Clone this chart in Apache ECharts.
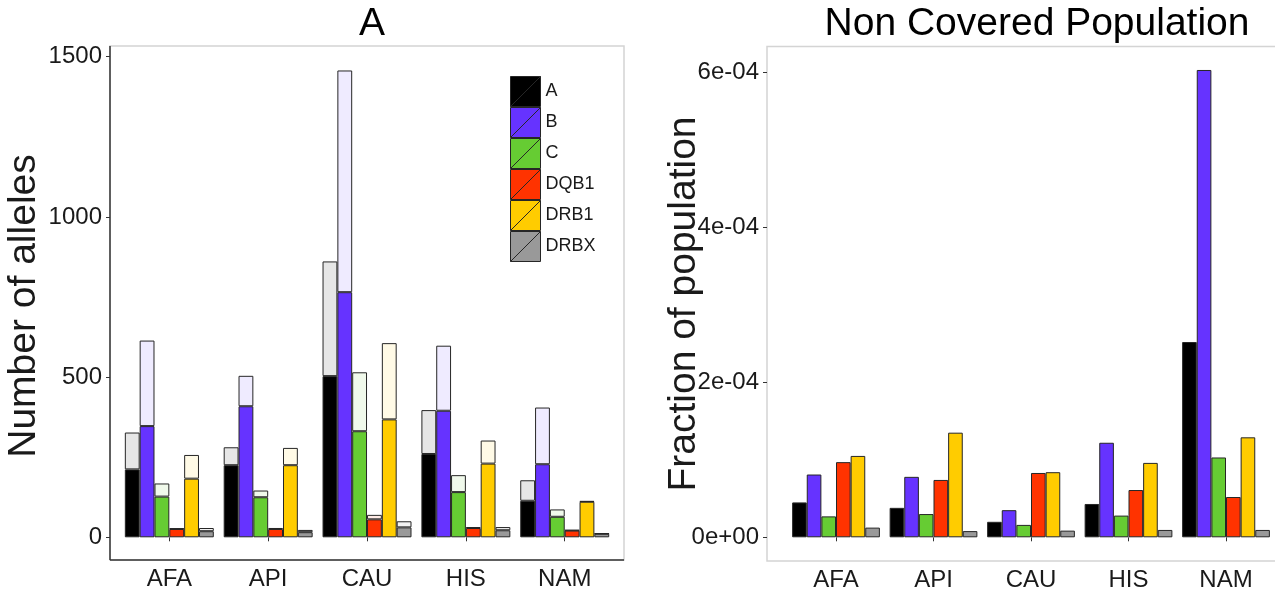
<!DOCTYPE html>
<html>
<head>
<meta charset="utf-8">
<script src="https://cdn.jsdelivr.net/npm/echarts@6/dist/echarts.min.js"></script>
<style>
  html, body { margin: 0; padding: 0; background: #fff; }
  #chart { width: 1275px; height: 593px; }
</style>
</head>
<body>
<div id="chart"></div>
<script>
// groups on the x axis
const categories = ['AFA', 'API', 'CAU', 'HIS', 'NAM']
const alleleTypes = ['A', 'B', 'C', 'DQB1', 'DRB1', 'DRBX']

// panel A: solid part and total height of each bar (number of alleles)
const aCore = [212, 225, 503, 260, 114]
const aTotal = [327, 281, 861, 397, 178]
const bCore = [347, 409, 765, 395, 228]
const bTotal = [614, 504, 1457, 598, 405]
const cCore = [127, 125, 331, 141, 64]
const cTotal = [168, 146, 515, 194, 87]
const dqb1Core = [26, 26, 56, 29, 21]
const dqb1Total = [28, 29, 70, 32, 23]
const drb1Core = [183, 225, 368, 230, 111]
const drb1Total = [257, 279, 606, 302, 113]
const drbxCore = [19, 16, 31, 22, 11]
const drbxTotal = [29, 23, 50, 32, 12]

// right panel: fraction of population not covered
const aFrac = [0.45e-4, 0.38e-4, 0.20e-4, 0.43e-4, 2.52e-4]
const bFrac = [0.81e-4, 0.78e-4, 0.35e-4, 1.22e-4, 6.03e-4]
const cFrac = [0.27e-4, 0.30e-4, 0.16e-4, 0.28e-4, 1.03e-4]
const dqb1Frac = [0.97e-4, 0.74e-4, 0.83e-4, 0.61e-4, 0.52e-4]
const drb1Frac = [1.05e-4, 1.35e-4, 0.84e-4, 0.96e-4, 1.29e-4]
const drbxFrac = [0.125e-4, 0.08e-4, 0.086e-4, 0.095e-4, 0.095e-4]

const fracTickLabels = ['0e+00', '2e-04', '4e-04', '6e-04']

const solidColors = ['#000000', '#6633ff', '#66cc33', '#ff3300', '#ffcc00', '#999999']
const lightColors = ['#e6e6e6', '#efebff', '#f0f9eb', '#ffebe6', '#fffae6', '#f2f2f2']

const coreList = [aCore, bCore, cCore, dqb1Core, drb1Core, drbxCore]
const totalList = [aTotal, bTotal, cTotal, dqb1Total, drb1Total, drbxTotal]
const fracList = [aFrac, bFrac, cFrac, dqb1Frac, drb1Frac, drbxFrac]

const FONT = 'Liberation Sans, Arial, Helvetica, sans-serif'
const TEXT = '#1a1a1a'
const barBorder = { borderColor: '#262626', borderWidth: 1 }

let series = []
alleleTypes.forEach((name, i) => {
  series.push({
    name: name,
    type: 'bar',
    xAxisIndex: 0,
    yAxisIndex: 0,
    stack: 'left' + name,
    barGap: '0%',
    barCategoryGap: '10%',
    itemStyle: Object.assign({ color: solidColors[i] }, barBorder),
    data: coreList[i],
  })
})
alleleTypes.forEach((name, i) => {
  series.push({
    name: name + ' extra',
    type: 'bar',
    xAxisIndex: 0,
    yAxisIndex: 0,
    stack: 'left' + name,
    barGap: '0%',
    barCategoryGap: '10%',
    itemStyle: Object.assign({ color: lightColors[i] }, barBorder),
    data: totalList[i].map((t, j) => t - coreList[i][j]),
  })
})
alleleTypes.forEach((name, i) => {
  series.push({
    name: name,
    type: 'bar',
    xAxisIndex: 1,
    yAxisIndex: 1,
    barGap: '0%',
    barCategoryGap: '10%',
    clip: false,
    itemStyle: Object.assign({ color: solidColors[i] }, barBorder),
    data: fracList[i],
  })
})

const xAxisCommon = {
  type: 'category',
  data: categories,
  axisLine: { show: false },
  axisTick: { show: true, alignWithLabel: true, length: 4, lineStyle: { color: '#333' } },
  axisLabel: { fontSize: 24, color: TEXT, fontFamily: FONT, margin: 7 },
  splitLine: { show: false },
}

const bigText = { fontSize: 39, fontWeight: 'normal', color: '#000', fontFamily: FONT }

const option = {
  animation: false,
  backgroundColor: '#fff',
  title: [
    { text: 'A', left: 367, top: 0, textAlign: 'center', textStyle: bigText },
    { text: 'Non Covered Population', left: 1032, top: 0, textAlign: 'center', textStyle: bigText },
  ],
  legend: {
    data: alleleTypes,
    orient: 'vertical',
    left: 510,
    top: 76,
    padding: 0,
    itemGap: 0,
    itemWidth: 30,
    itemHeight: 30,
    icon: 'path://M0,0L30,0L30,30L0,30Z M0,30L30,0',
    itemStyle: { borderColor: '#262626', borderWidth: 1 },
    textStyle: { fontSize: 18, color: TEXT, fontFamily: FONT },
    selectedMode: false,
  },
  grid: [
    { left: 119.9, width: 494.25, top: 56.7, height: 480.6 },
    { left: 787.25, width: 487.5, top: 72.3, height: 465 },
  ],
  xAxis: [
    Object.assign({ gridIndex: 0, offset: 22.7 }, xAxisCommon),
    Object.assign({ gridIndex: 1, offset: 23.7 }, xAxisCommon),
  ],
  yAxis: [
    {
      gridIndex: 0,
      type: 'value',
      min: 0,
      max: 1500,
      interval: 500,
      offset: 9.9,
      axisLine: { show: false },
      axisTick: { show: true, length: 4, lineStyle: { color: '#333' } },
      axisLabel: { fontSize: 24, color: TEXT, fontFamily: FONT, margin: 8, formatter: (v) => String(v) },
      splitLine: { show: false },
    },
    {
      gridIndex: 1,
      type: 'value',
      min: 0,
      max: 6e-4,
      interval: 2e-4,
      offset: 20.25,
      axisLine: { show: false },
      axisTick: { show: true, length: 4, lineStyle: { color: '#333' } },
      axisLabel: {
        fontSize: 24,
        color: TEXT,
        fontFamily: FONT,
        margin: 8,
        formatter: (v) => fracTickLabels[Math.round(v / 2e-4)],
      },
      splitLine: { show: false },
    },
  ],
  graphic: [
    // panel frames
    { type: 'rect', shape: { x: 110, y: 46, width: 514, height: 514 }, style: { fill: 'none', stroke: '#d4d4d4', lineWidth: 1.5 }, z: 0 },
    { type: 'line', shape: { x1: 110, y1: 46, x2: 110, y2: 560 }, style: { stroke: '#333', lineWidth: 1.5 }, z: 0 },
    { type: 'line', shape: { x1: 110, y1: 560, x2: 624, y2: 560 }, style: { stroke: '#333', lineWidth: 1.5 }, z: 0 },
    { type: 'rect', shape: { x: 767, y: 46.5, width: 530, height: 514.5 }, style: { fill: 'none', stroke: '#d4d4d4', lineWidth: 1.5 }, z: 0 },
    // axis titles
    {
      type: 'text', x: 24, y: 306, rotation: Math.PI / 2,
      style: { text: 'Number of alleles', align: 'center', verticalAlign: 'middle', fill: TEXT, font: '39px ' + FONT },
    },
    {
      type: 'text', x: 684, y: 304, rotation: Math.PI / 2,
      style: { text: 'Fraction of population', align: 'center', verticalAlign: 'middle', fill: TEXT, font: '39px ' + FONT },
    },
  ],
  series: series,
}

const chartDom = echarts.init(document.getElementById('chart'))
chartDom.setOption(option)
</script>
</body>
</html>
